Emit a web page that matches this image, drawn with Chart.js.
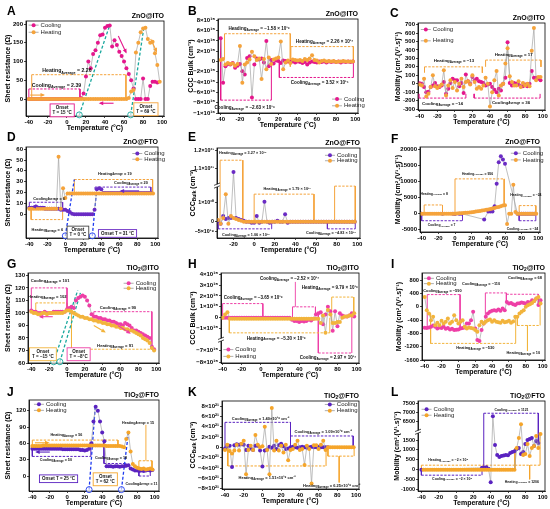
<!DOCTYPE html>
<html><head><meta charset="utf-8">
<script src="https://cdn.jsdelivr.net/npm/chart.js@4.4.0/dist/chart.umd.min.js"></script>
<style>
html,body{margin:0;padding:0;background:#fff;}
#fig{position:relative;width:550px;height:509px;overflow:hidden;background:#fff;}
#fig canvas{position:absolute;}
</style></head><body><div id="fig"></div>
<script>
// temperature grid shared by every panel (°C)
const tempC = [
  -40,-37.5,-35,-32.5,-30,-27.5,-25,-22.5,
  -20,-17.5,-15,-12.5,-10,-7.5,-5,-2.5,
  0,2.5,5,7.5,10,12.5,15,17.5,
  20,22.5,25,27.5,30,32.5,35,37.5,
  40,42.5,45,47.5,50,52.5,55,57.5,
  60,62.5,65,67.5,70,72.5,75,77.5,
  80,82.5,85,87.5,90,92.5,95,97.5];

// A: ZnO@ITO sheet resistance (ohm)
const aCool = [
  0,0,0,0,0,0,0,0,
  0,0,0,0,0,0,0,0,
  0,0,0,0,0,0,2,15,
  60,100,82,120,130,150,170,172,
  190,195,196,140,157,144,126,115,
  100,82,67,50,28,0,0,0,
  55,0,0,35,46,46,44,null];
const aHeat = [
  0,0,0,0,0,0,0,0,
  0,0,0,0,0,0,0,0,
  0,0,0,0,0,0,0,0,
  0,0,0,0,0,0,0,0,
  0,0,0,0,0,0,0,0,
  0,0,3,20,24,124,150,178,
  188,190,160,150,153,122,91,46];

// B: ZnO@ITO CCC bulk (x1e15 cm-3)
const bCool = [
  4.5,-4.1,-0.9,-0.5,-0.6,-0.3,-1.2,-0.8,
  -0.5,-1.9,-2.5,0.7,1.0,-7.0,-0.6,0.6,
  0.4,0.6,-0.2,4.0,-0.9,0.3,-0.4,0.2,
  0.1,-0.3,0.2,0.1,0,-0.1,0,-0.2,
  0,-0.1,-0.3,-0.1,-0.6,-0.2,0,-0.1,
  -0.2,0,-0.1,0,-0.2,0,-0.1,0,
  -0.1,0,-0.2,0,-0.1,0,-0.1,0];
const bHeat = [
  0.3,0.5,-0.6,-0.3,-0.5,-0.4,-0.8,-0.5,
  3.0,-4.1,-0.6,-0.2,0.4,1.9,1.0,0.3,
  0.6,-3.4,0.5,-1.5,0.8,-0.5,0.4,0.6,
  0.8,3.9,-1.5,-0.2,0.2,-0.3,0.4,0.3,
  0.2,0.3,0.1,0.5,0.3,0.6,1.2,0.3,
  0.2,-0.2,0.1,0.2,0,0.1,0,0.1,
  -0.1,0,0,0.1,0,0,0,0];

// C: ZnO@ITO mobility
const cCool = [
  5,0,-40,-100,-95,-40,-20,10,
  -30,-40,-20,20,-120,-60,10,60,
  40,40,-30,10,-110,110,30,0,
  80,40,60,30,20,10,-20,-10,
  0,-40,-70,-100,-60,-80,0,70,
  490,10,-20,10,0,-10,-30,-30,
  -10,-30,0,150,70,70,60,40];
const cHeat = [
  -10,-20,60,-150,-120,-40,100,-30,
  -50,-30,-10,160,-140,-20,40,-50,
  20,-80,0,60,-40,20,30,-10,
  100,20,-60,-40,-60,-20,70,0,
  -270,-100,40,150,-140,-20,0,240,
  420,90,20,-20,-20,30,-40,10,
  -20,0,-30,390,660,40,80,80];

// D: ZnO@FTO sheet resistance
const dCool = [
  6,6,6,7,6,6,6,5,
  5,5,5,5,5,5,4,4,
  4,3,2,0.5,0,0,0,0,
  0,0,0,0,0,4,23,24,
  23,19.5,19.5,19.5,19.5,19.5,19.5,19.5,
  19.5,19.5,19.5,19.5,19.5,19.5,19.5,19.5,
  19.5,19.5,19.5,19.5,19.5,19.5,19.5,null];
const dHeat = [
  5,5,5,5,5,5,5,5,
  5,5,5,5,5,53,5,24,
  15,19,19,19,19,19,19,19,
  19,19,19,19,19,19,19,19,
  19,19,19,19,19,19,19,19,
  19,19,19,19,19,19,19,19,
  19,19,19,19,19,19,19,19];

// E: ZnO@FTO CCC bulk (x1e20 cm-3, broken axis)
const eCool = [
  null,null,0.05,-0.1,0.3,0.15,0.2,0.2,
  10.78,0.2,0.15,0.1,0.05,0,0,-0.05,
  -0.05,0.3,-0.05,0,1.05,0,-0.05,0,
  0,0.05,0,0,0.4,-0.05,0,0,
  0,0,0,0,0,0,0,0,
  0,0,0,0,0,0,0,0,
  0,0,0,0,0,0,0,0];
const eHeat = [
  null,null,0.1,-0.1,0.2,1.45,-0.1,0.3,
  0.2,0.15,0.1,0.05,0,0,0,0,
  0,0,0,0,0,0,0,0,
  0,0,0,0,0,0,0,0,
  0,0,0,0,0,0,0,0,
  0,0,0,0,0,0,0,0,
  0,0,0,0,0,0,0,0];

// F: ZnO@FTO mobility
const fCool = [
  0,null,null,null,null,null,null,null,
  null,null,0,null,null,null,null,0,
  -100,null,0,0,null,null,null,null,
  null,null,null,null,null,null,-1800,null,
  700,700,700,2300,9300,16000,17800,16800,
  15500,null,null,null,null,null,0,0,
  0,0,0,0,0,0,0,null];
const fHeat = [
  0,0,0,0,0,0,0,0,
  0,0,0,0,0,0,0,0,
  0,50,100,150,200,250,300,380,
  450,550,650,750,850,950,1050,1200,
  1300,1450,1600,1750,1950,2100,2300,2500,
  2600,-3200,0,0,9000,500,0,0,
  0,0,0,0,0,0,0,0];

// G: TiO2@ITO sheet resistance
const gCool = [
  102,101,101,100,100,100,101,100,
  100,100,101,101,101,101,101,101,
  103,104,105,104,110,112,113,114,
  113,110,106,99,97,97,96,96,
  95,95,94,94,93,93,92,91,
  91,90,92,91,90,88,86,86,
  85,84,83,82,81,80,73,71];
const gHeat = [
  101,100,100,99,99,100,100,99,
  100,100,100,100,100,100,100,101,
  102,102,101,100,99,98,97,97,
  96,96,95,95,94,94,93,93,
  92,92,91,91,90,90,89,89,
  88,88,87,87,86,86,85,84,
  83,82,80,79,78,76,72,70];

// H: TiO2@ITO CCC bulk (x1e15 cm-3, broken axis)
const hCool = [
  0,0,0,0,0,0,0,0,
  0,0,0,0,0,0,0,0,
  0,0,0,0,0,0,0,0,
  0,0,0,0,0,-0.2,-0.3,-0.3,
  -0.4,-0.3,-0.35,-0.3,-0.2,-0.25,-0.1,0.3,
  0.4,0.5,-0.6,0.3,1.0,0.6,-1.2,0.6,
  -0.8,0.4,0.2,0.1,0.1,0.2,0.4,0.1];
const hHeat = [
  0,0.3,0.5,-0.1,-0.1,-0.1,-0.1,-0.1,
  -0.1,-0.1,-0.1,-0.1,-0.1,-0.1,-0.1,-0.1,
  -0.1,-0.1,-0.1,-0.1,-0.1,-0.1,-0.1,-0.1,
  -0.1,-0.1,-0.1,-0.1,-0.1,-0.1,-0.1,-0.1,
  -0.1,-0.1,-0.1,-0.1,-0.1,-0.1,-0.1,-0.1,
  -0.1,-0.5,0.2,-1.4,0.7,0.3,-0.5,-0.5,
  -0.4,-0.4,0,0.1,0.1,0.2,0.2,0.4];

// I: TiO2@ITO mobility
const iCool = [
  -630,-640,-620,-600,-560,-600,-650,-620,
  -640,-600,-660,-640,-680,-660,-700,-690,
  -680,-650,-640,-620,-500,-500,-400,-150,
  -650,-1000,-1030,-700,-500,-300,-200,-150,
  -120,-100,-120,-80,-120,-50,-100,150,
  100,120,80,60,100,110,130,120,
  100,150,130,200,180,250,60,200];
const iHeat = [
  300,-100,-200,-400,-300,-550,-480,-550,
  -420,-500,-450,-350,-500,-450,-250,-400,
  -500,-450,-400,-600,-650,-620,-640,-650,
  -700,-750,-550,-450,-500,-450,-400,-380,
  -450,-400,-450,-460,-480,-420,-460,-450,
  -420,-480,-440,-300,-300,-200,-150,-100,
  0,50,80,120,180,250,300,100];

// J: TiO2@FTO sheet resistance
const jCool = [
  50,50,50,50,50,50,50,50,
  50,50,50,50,50,50,49,49,
  49,49,49,49,49,49,48,48,
  47,48,50,60,100,127,120,100,
  80,64,18,18,18,17,18,18,
  17,18,18,19,20,14,12,10,
  10,9,10,9,10,11,10,11];
const jHeat = [
  55,55,55,55,55,56,56,56,
  56,56,56,56,56,56,56,56,
  56,56,56,56,56,56,56,56,
  56,56,56,56,56,56,56,56,
  56,56,55,55,55,55,55,55,
  55,54,53,68,80,45,22,18,
  15,14,13,14,12,13,14,12];

// K: TiO2@FTO CCC bulk (x1e21 cm-3)
const kCool = [
  -0.2,0.3,0.3,-3.8,0.4,0.6,0.5,0.6,
  0.5,-0.5,0.3,-0.2,-0.5,0.3,0.3,-0.6,
  -3.7,-0.6,-0.4,0.1,-0.1,0.3,-0.3,0.4,
  0.7,0.2,-0.3,-0.2,0,0.1,0,-0.1,
  0,0.1,0,-0.1,0,0.1,0,0,
  0.1,0,0,0,0,null,null,null,
  null,null,null,null,null,null,null,null];
const kHeat = [
  -0.5,0.5,-0.7,-1.2,-0.6,0.5,-0.6,0.7,
  1.3,-5.2,-0.5,0.3,-0.5,2.4,0.5,0,
  0.2,4.0,-0.5,-5.2,7.6,-0.6,1.3,-0.6,
  0.3,-1.0,0.5,-2.5,-0.5,-0.3,0.5,1.3,
  -0.5,-0.3,-3.4,0.3,-0.3,-7.0,0.4,0.4,
  -0.3,0.5,1.3,-0.5,0,0,0,0,
  0,0,0,0,0,0,0,0];

// L: TiO2@FTO mobility (broken axis)
const lCool = [
  0,null,null,null,null,null,null,null,
  null,null,null,null,null,null,null,null,
  null,null,null,null,null,null,null,null,
  null,null,null,null,100,110,130,50,
  -620,6800,1250,750,650,700,720,750,
  740,850,900,930,1050,1100,800,900,
  1300,1500,1550,1600,1200,1450,1350,null];
const lHeat = [
  null,0,0,0,0,0,0,0,
  0,0,0,0,0,0,0,0,
  0,0,0,0,0,0,0,0,
  0,0,0,0,0,0,0,0,
  0,0,0,0,0,0,0,0,
  0,0,0,0,1100,1600,6375,750,
  800,1300,700,1100,1200,1700,1100,1800];

// tick values and labels
const xTicksStd = [-40,-20,0,20,40,60,80,100];
const xTicksE = [-20,0,20,40,60,80,100];
const yTicksA = [0,50,100,150,200];
const yTicksB = [-10,-8,-6,-4,-2,0,2,4,6,8];
const yLabelsB = ['−1×10¹⁶','−8×10¹⁵','−6×10¹⁵','−4×10¹⁵','−2×10¹⁵','0','2×10¹⁵','4×10¹⁵','6×10¹⁵','8×10¹⁵'];
const yTicksC = [-300,-200,-100,0,100,200,300,400,500,600,700];
const yTicksD = [0,10,20,30,40,50,60];
const yTicksE = [-0.5,0,1,11,12];
const yLabelsE = ['−5×10¹⁹','0','1×10²⁰','1.1×10²¹','1.2×10²¹'];
const yTicksF = [-5000,0,5000,10000,15000,20000];
const yTicksG = [60,70,80,90,100,110,120,130];
const yTicksH = [-8,-7,-1,0,1,2,3,4];
const yLabelsH = ['−8×10¹⁵','−7×10¹⁵','−1×10¹⁵','0','1×10¹⁵','2×10¹⁵','3×10¹⁵','4×10¹⁵'];
const yTicksI = [-1600,-1200,-800,-400,0,400,800];
const yTicksJ = [0,30,60,90,120];
const yTicksK = [-8,-6,-4,-2,0,2,4,6,8];
const yLabelsK = ['−8×10²¹','−6×10²¹','−4×10²¹','−2×10²¹','0','2×10²¹','4×10²¹','6×10²¹','8×10²¹'];
const yTicksL = [-1000,-500,0,500,1000,1500,6500,7000,7500];
const yLabelsL = ['-1000','-500','0','500','1000','1500','6500','7000','7500'];

// average brackets: [xStart, xEnd, level, startBase, endBase, series]
const bracketsA = [[-37,62,65,0,0,'h'],[-40,13.7,27,0,0,'c']];
const bracketsB = [[-36,32.4,5.4,0.5,-1.0,'h'],[33,98,2.9,0,0,'h'],[-40,12.7,-7.5,4.5,0,'c'],[21,98,-3.1,0,0,'c']];
const bracketsC = [[-34.5,31.3,200,130,130,'h'],[35,98,280,200,200,'h'],[-41,12.6,-170,-120,-120,'c'],[22,97,-170,-120,-120,'c']];
const bracketsD = [[-40,-3,11,6,4,'c'],[-38,-3,-5,5,5,'h'],[10,97,32,19,19,'h'],[33,95,25,23,19.5,'c']];
const bracketsE = [[-33,-11,11.45,0,0,'h'],[0,58,1.45,0,0,'h'],[78,98,1.87,0,0,'h'],[-35,17,-0.37,0,0,'c'],[71,98,-0.37,0,0,'c']];
const bracketsF = [[-37,-15,2700,0,0,'h'],[0,59,10800,0,2600,'h'],[77,97,2500,0,0,'h'],[-40,9,-2200,0,0,'c'],[77,97,-2200,0,0,'c']];
const bracketsG = [[-40,0,120,102,103,'c'],[-35,0,108,100,102,'h'],[30,95,101,97,73,'c'],[5,95,71,101,72,'h']];
const bracketsH = [[-40,2,1.3,0,0,'c'],[33,57,1.0,-0.2,0.3,'c'],[74,97,1.9,-0.5,0.4,'h'],[-33,72,-1.4,0,0,'h'],[60,95,-7.2,0.4,0.4,'c']];
const bracketsI = [[-37,2,370,-620,-670,'c'],[32,57,420,-300,150,'c'],[57,95,380,150,60,'c'],[-33,68,-1100,-200,-300,'h'],[70,97,-560,-300,100,'h']];
const bracketsJ = [[-40,58,66,55,56,'h'],[-40,27,36,50,55,'c'],[42,67,23,64,19,'c'],[82,97,28,14,12,'h'],[82,95,0,9,10,'c']];
const bracketsK = [[-40,30,4.84,0,0,'c'],[30,97,2.2,0,0,'c'],[-37,68,-3.6,0,0,'h'],[70,98,-1.7,0,0,'h']];
const bracketsL = [[32,95,6964,0,1350,'c'],[-40,68,233,0,0,'h'],[-40,30,-270,0,0,'c'],[68,97,233,1100,1800,'h']];

// average labels: [series, value, x, y]
const labelsA = [['Heating','2.26',0,75],['Cooling','2.39',-11,37]];
const labelsB = [['Heading','−1.58 × 10¹⁶',0,6.4],['Heating','2.26 × 10¹⁷',68,3.9],['Cooling','−2.63 × 10¹⁶',-15,-9.0],['Cooling','3.52 × 10¹⁵',63,-4.2]];
const labelsC = [['Heating','−13',-1,268],['Heating','17',67,338],['Cooling','−14',-14,-240],['Cooling','36',64,-220]];
const labelsD = [['Cooling','6',-18,14.5],['Heating','6',-20,-15],['Heating','19',55,37.5],['Cooling','20',73,28.5]];
const labelsE = [['Heating','3.27 × 10¹⁹',-11,11.85],['Heating','1.79 × 10¹⁷',32,1.7],['Heating','−4.10 × 10²⁰',73.5,2.35],['Cooling','1.06 × 10¹⁹',-8,-0.7],['Cooling','−4.83 × 10¹⁹',74.5,-0.6]];
const labelsF = [['Heating','8',-25,6200],['Heating','956',27,12400],['Heating','−24',85,5700],['Cooling','7',-16,-3600],['Cooling','−24',81,-4700]];
const labelsG = [['Cooling','101',-19,125.5],['Heating','102',-22,113],['Cooling','90',57,104],['Heating','91',54,74]];
const labelsH = [['Cooling','−3.65 × 10¹⁶',-8,1.85],['Cooling','−2.52 × 10¹⁷',30,3.6],['Heating','9.79 × 10¹⁶',72,2.75],['Heating','−5.30 × 10¹⁶',16,-1.9],['Cooling','2.97 × 10¹⁷',70,-7.65]];
const labelsI = [['Cooling','−590',-19,480],['Cooling','−110',27,690],['Cooling','68',79,870],['Heating','−530',20,-1230],['Heating','10',77,-1400]];
const labelsJ = [['Heating','56',-1,75],['Cooling','50',-13,29],['Cooling','18',50,33.5],['Heating','15',81,98],['Cooling','11',85,-14]];
const labelsK = [['Cooling','1.40×10¹⁹ cm⁻³',-2,5.5],['Cooling','1.09×10¹⁹ cm⁻³',65,2.95],['Heating','1.51×10¹⁹ cm⁻³',5,-6.0],['Heating','6.25×10¹⁸ cm⁻³',74,-7.4]];
const labelsL = [['Cooling','1121',64,7160],['Heating','−2 × 10⁴',-9,480],['Cooling','−2 × 10⁵',-4.5,-450],['Heating','1206',76,-600]];

// onset guide lines [x1,y1,x2,y2], onset boxes [x,y,lines,series], arrows [x1,y1,x2,y2,series]
const onsetA = [[13,-42,45,197],[67,-42,81,193]];
const onsetD = [[0,-20,10,32],[30,-20,35,24]];
const onsetG = [[-15,61,12,118],[-8,61,15,116]];
const onsetJ = [[25,-25,32,127],[62,-25,70,80]];
const boxesA = [[-5,-30,['Onset','T = 15 °C'],'c'],[83,-27,['Onset','T = 69 °C'],'h']];
const boxesD = [[14,-17,['Onset','T = 0 °C'],'k'],[58,-17.8,['Onset T = 31 °C'],'c']];
const boxesG = [[-27,67,['Onset','T = −15 °C'],'h'],[13,67,['Onset','T = −8°C'],'c']];
const boxesJ = [[-10,-5,['Onset T = 25 °C'],'c'],[43.5,-6,['Onset','T = 62 °C'],'h']];
const arrowsA = [[49,-11,35,-11,'c'],[-38.6,10.7,-24.6,10.7,'h'],[54,168,62,125,'c'],[88,160,94,128,'h']];
const arrowsD = [[82,21.5,62,21.5,'c'],[-22,7,-36,7,'c']];
const arrowsG = [[-16,97,-30,97,'c'],[30,90,42,85,'h'],[57,90,70,84,'c']];
const arrowsJ = [[-37,61,-22,61,'h'],[-20,44,-35,44,'c']];
const extrasH = [[36,1.0,36,3.3,'c']];
const extrasI = [[82,-560,82,-1330,'h']];
const extrasJ = [[90,28,90,94,'h']];
const extrasK = [[82,-1.7,82,-6.8,'h']];
const extrasL = [[85,233,85,-480,'h']];

// styles
const colZnITO = {c:'#E4178C', h:'#F5A33B', t:'#19A89E', k:'#444'};
const colZnFTO = {c:'#6A2BC4', h:'#F5A33B', t:'#1E3BF0', k:'#444'};
const colTiITO = {c:'#EE3FA6', h:'#F2B43C', t:'#19A89E', k:'#444'};
const colTiFTO = {c:'#5A22C0', h:'#F5A52A', t:'#1E3BF0', k:'#444'};

// layout (absolute px): canvas cell, plot rect [l,t,r,b], letter pos, y-title x
const layout = {
  A:{cell:[0,0,183,136],   plot:[26,21,164,116],   letter:[7,15],   ytx:8},
  B:{cell:[183,0,183,136], plot:[218,19,358,113],  letter:[188,15], ytx:191},
  C:{cell:[366,0,184,136], plot:[418,23,545,110],  letter:[390,17], ytx:398},
  D:{cell:[0,127,183,136], plot:[26,147,158,238],  letter:[7,141],  ytx:8},
  E:{cell:[183,127,183,136], plot:[217,148,360,238], letter:[188,141], ytx:193},
  F:{cell:[366,127,184,136], plot:[420,147,540,232], letter:[391,143], ytx:398},
  G:{cell:[0,253,183,136], plot:[28,273,159,363],  letter:[7,268],  ytx:8},
  H:{cell:[183,253,183,136], plot:[221,273,359,363], letter:[188,268], ytx:193},
  I:{cell:[366,253,184,136], plot:[422,273,545,360], letter:[391,268], ytx:399},
  J:{cell:[0,380,183,129], plot:[29,400,159,491],  letter:[7,396],  ytx:8},
  K:{cell:[183,380,183,129], plot:[222,401,359,489], letter:[188,396], ytx:193},
  L:{cell:[366,380,184,129], plot:[418,401,545,491], letter:[391,396], ytx:397}
};

const RS = 'Sheet resistance (Ω)', MOB = 'Mobility (cm².(V¹.s)⁻¹)';
const panels = [
  {id:'A', title:'ZnO@ITO', yt:RS, cool:aCool, heat:aHeat, xr:[-43,102], yr:[-45,208], xt:xTicksStd, yt2:yTicksA, col:colZnITO,
   br:bracketsA, lb:labelsA, ls:5.2, lg:[-35,197,178], on:onsetA, bx:boxesA, ar:arrowsA},
  {id:'B', title:'ZnO@ITO', yt:'CCC Bulk (cm⁻³)', cool:bCool, heat:bHeat, xr:[-42.8,102.8], yr:[-10,8.26], xt:xTicksStd, yt2:yTicksB, yl:yLabelsB, col:colZnITO,
   br:bracketsB, lb:labelsB, ls:4.6, lg:[81,-7.3,-8.6]},
  {id:'C', title:'ZnO@ITO', yt:MOB, cool:cCool, heat:cHeat, xr:[-41.9,102.6], yr:[-311,719], xt:xTicksStd, yt2:yTicksC, col:colZnITO,
   br:bracketsC, lb:labelsC, ls:4.4, lg:[-33,642,508]},
  {id:'D', title:'ZnO@FTO', yt:RS, cool:dCool, heat:dHeat, xr:[-43.7,103], yr:[-22,62], xt:xTicksStd, yt2:yTicksD, col:colZnFTO,
   br:bracketsD, lb:labelsD, ls:3.9, lg:[80,56,50.7], on:onsetD, bx:boxesD, ar:arrowsD},
  {id:'E', title:'ZnO@FTO', yt:'CCC_{Bulk} (cm⁻³)', cool:eCool, heat:eHeat, xr:[-36,102.6], yr:[-0.85,3.87], xt:xTicksE, yt2:yTicksE, yl:yLabelsE, col:colZnFTO,
   br:bracketsE, lb:labelsE, ls:3.8, lg:[73.5,11.73,11.42], brk:{at:1.9, to:10, k:0.917, up:true}, tsz:5.3},
  {id:'F', title:'ZnO@FTO', yt:MOB, cool:fCool, heat:fHeat, xr:[-42,102], yr:[-5700,20700], xt:xTicksStd, yt2:yTicksF, col:colZnFTO,
   br:bracketsF, lb:labelsF, ls:3.4, lg:[73,18760,16700]},
  {id:'G', title:'TiO_{2}@ITO', yt:RS, cool:gCool, heat:gHeat, xr:[-43.7,103], yr:[60,131.9], xt:xTicksStd, yt2:yTicksG, col:colTiITO,
   br:bracketsG, lb:labelsG, ls:4.2, lg:[69,123.7,119.7], on:onsetG, bx:boxesG, ar:arrowsG},
  {id:'H', title:'TiO_{2}@ITO', yt:'CCC Bulk (cm⁻³)', cool:hCool, heat:hHeat, xr:[-41.7,102.5], yr:[-4.18,4.12], xt:xTicksStd, yt2:yTicksH, yl:yLabelsH, col:colTiITO,
   br:bracketsH, lb:labelsH, ls:4.5, lg:[-34,-6.91,-7.49], brk:{at:-2.03, to:-6.06, k:1.077, up:false}, ex:extrasH},
  {id:'I', title:'TiO_{2}@ITO', yt:MOB, cool:iCool, heat:iHeat, xr:[-43.2,102.8], yr:[-1600,1020], xt:xTicksStd, yt2:yTicksI, col:colTiITO,
   br:bracketsI, lb:labelsI, ls:3.9, lg:[-35,860,700], ex:extrasI, tsz:5.7},
  {id:'J', title:'TiO_{2}@FTO', yt:RS, cool:jCool, heat:jHeat, xr:[-43.8,105], yr:[-27.5,139.6], xt:xTicksStd, yt2:yTicksJ, col:colTiFTO,
   br:bracketsJ, lb:labelsJ, ls:3.7, lg:[-32.4,131.7,120.6], on:onsetJ, bx:boxesJ, ar:arrowsJ, ex:extrasJ},
  {id:'K', title:'TiO_{2}@FTO', yt:'CCC_{Bulk} (cm⁻³)', cool:kCool, heat:kHeat, xr:[-43.2,103.2], yr:[-8.06,8.97], xt:xTicksStd, yt2:yTicksK, yl:yLabelsK, col:colTiFTO,
   br:bracketsK, lb:labelsK, ls:4.0, lg:[72,8.3,7.1], ex:extrasK},
  {id:'L', title:'TiO_{2}@FTO', yt:MOB, cool:lCool, heat:lHeat, xr:[-43.9,102.7], yr:[-1067,3467], xt:xTicksStd, yt2:yTicksL, yl:yLabelsL, col:colTiFTO,
   br:bracketsL, lb:labelsL, ls:3.5, lg:[-34,7178,6857], brk:{at:1917, to:5964, k:0.933, up:true}, ex:extrasL, tsz:5.5}
];

const FONT = '"Liberation Sans", Arial, sans-serif';
function fnt(size, bold) { return (bold ? 'bold ' : '') + size + 'px ' + FONT; }

// text with _{subscript} parts
function rich(ctx, str, x, y, size, bold, align, color) {
  const parts = [];
  str.split(/(_\{[^}]*\})/).forEach(s => {
    if (!s) return;
    if (s.indexOf('_{') === 0) parts.push({t: s.slice(2, -1), sub: true});
    else parts.push({t: s, sub: false});
  });
  let w = 0;
  parts.forEach(p => { ctx.font = fnt(p.sub ? size * 0.7 : size, bold); p.w = ctx.measureText(p.t).width; w += p.w; });
  let cx = align === 'center' ? x - w / 2 : align === 'right' ? x - w : x;
  ctx.textAlign = 'left'; ctx.textBaseline = 'middle'; ctx.fillStyle = color;
  parts.forEach(p => {
    ctx.font = fnt(p.sub ? size * 0.7 : size, bold);
    ctx.fillText(p.t, cx, p.sub ? y + size * 0.3 : y);
    cx += p.w;
  });
}

// broken y axis: values beyond the break are shifted down/up
function makeMap(b) {
  if (!b) return v => v;
  return v => {
    if (v === null) return null;
    const beyond = b.up ? v > b.at : v < b.at;
    return beyond ? b.at + (v - b.to) * b.k : v;
  };
}

function makeDeco(p, L, f) {
  const col = p.col;
  return {
    id: 'deco' + p.id,
    afterDraw(chart) {
      const ctx = chart.ctx, a = chart.chartArea, sx = chart.scales.x, sy = chart.scales.y;
      const X = v => sx.getPixelForValue(v), Y = v => sy.getPixelForValue(f(v));
      const ox = L.cell[0], oy = L.cell[1];
      ctx.save();
      ctx.strokeStyle = '#000'; ctx.lineWidth = 0.8;
      ctx.strokeRect(a.left, a.top, a.right - a.left, a.bottom - a.top);
      if (p.brk) {
        const yb = sy.getPixelForValue(p.brk.at);
        ctx.fillStyle = '#fff'; ctx.fillRect(a.left - 3, yb - 1.4, 6, 2.8);
        ctx.beginPath();
        ctx.moveTo(a.left - 3, yb - 0.2); ctx.lineTo(a.left + 3, yb - 2.6);
        ctx.moveTo(a.left - 3, yb + 2.6); ctx.lineTo(a.left + 3, yb + 0.2);
        ctx.lineWidth = 0.7; ctx.stroke();
      }
      // panel letter and material
      ctx.fillStyle = '#000'; ctx.font = fnt(12, true); ctx.textAlign = 'left'; ctx.textBaseline = 'alphabetic';
      ctx.fillText(p.id, L.letter[0] - ox, L.letter[1] - oy);
      rich(ctx, p.title, a.right, a.top - 5, 7, true, 'right', '#000');
      // axis titles
      ctx.save();
      ctx.translate(L.ytx - ox, (a.top + a.bottom) / 2);
      ctx.rotate(-Math.PI / 2);
      rich(ctx, p.yt, 0, 0, 7, true, 'center', '#000');
      ctx.restore();
      rich(ctx, 'Temperature (°C)', (a.left + a.right) / 2, a.bottom + 12.5, 7, true, 'center', '#000');
      // average labels
      p.lb.forEach(l => rich(ctx, l[0] + '_{Average} = ' + l[1], X(l[2]), Y(l[3]), p.ls, true, 'center', '#111'));
      // arrows
      (p.ar || []).forEach(r => {
        const x1 = X(r[0]), y1 = Y(r[1]), x2 = X(r[2]), y2 = Y(r[3]);
        const ang = Math.atan2(y2 - y1, x2 - x1);
        ctx.strokeStyle = col[r[4]]; ctx.fillStyle = col[r[4]]; ctx.lineWidth = 1.1;
        ctx.beginPath(); ctx.moveTo(x1, y1); ctx.lineTo(x2, y2); ctx.stroke();
        ctx.beginPath(); ctx.moveTo(x2 + 1.5 * Math.cos(ang), y2 + 1.5 * Math.sin(ang));
        ctx.lineTo(x2 - 3 * Math.cos(ang) + 2 * Math.sin(ang), y2 - 3 * Math.sin(ang) - 2 * Math.cos(ang));
        ctx.lineTo(x2 - 3 * Math.cos(ang) - 2 * Math.sin(ang), y2 - 3 * Math.sin(ang) + 2 * Math.cos(ang));
        ctx.closePath(); ctx.fill();
      });
      // onset circles
      (p.on || []).forEach(o => {
        ctx.beginPath(); ctx.arc(X(o[0]), Y(o[1]), 3, 0, Math.PI * 2);
        ctx.fillStyle = 'rgba(255,255,255,0.6)'; ctx.fill();
        ctx.strokeStyle = col.t; ctx.lineWidth = 0.9; ctx.stroke();
      });
      // onset boxes
      (p.bx || []).forEach(b => {
        ctx.font = fnt(4.5, true);
        const w = Math.max(...b[2].map(s => ctx.measureText(s).width)) + 5;
        const h = b[2].length * 5.2 + 2.5;
        const cx = X(b[0]), cy = Y(b[1]);
        ctx.fillStyle = '#fff'; ctx.fillRect(cx - w / 2, cy - h / 2, w, h);
        ctx.strokeStyle = col[b[3]]; ctx.lineWidth = 0.9; ctx.strokeRect(cx - w / 2, cy - h / 2, w, h);
        ctx.fillStyle = '#111'; ctx.textAlign = 'center'; ctx.textBaseline = 'middle';
        b[2].forEach((s, i) => ctx.fillText(s, cx, cy - h / 2 + 3.8 + i * 5.2));
      });
      // legend
      const lg = p.lg;
      [['Cooling', col.c, lg[1]], ['Heating', col.h, lg[2]]].forEach(r => {
        const mx = X(lg[0]), my = Y(r[2]);
        ctx.strokeStyle = '#999'; ctx.lineWidth = 0.8;
        ctx.beginPath(); ctx.moveTo(mx - 5, my); ctx.lineTo(mx + 5, my); ctx.stroke();
        ctx.beginPath(); ctx.arc(mx, my, 2, 0, Math.PI * 2); ctx.fillStyle = r[1]; ctx.fill();
        ctx.fillStyle = '#222'; ctx.font = fnt(6, false); ctx.textAlign = 'left'; ctx.textBaseline = 'middle';
        ctx.fillText(r[0], mx + 7, my);
      });
      ctx.restore();
    }
  };
}

function build(p) {
  const L = layout[p.id], col = p.col, f = makeMap(p.brk);
  const cv = document.createElement('canvas');
  cv.width = L.cell[2]; cv.height = L.cell[3];
  cv.style.left = L.cell[0] + 'px'; cv.style.top = L.cell[1] + 'px';
  cv.style.width = L.cell[2] + 'px'; cv.style.height = L.cell[3] + 'px';
  document.getElementById('fig').appendChild(cv);

  const series = ys => tempC.map((t, i) => ({x: t, y: ys[i] === null ? null : f(ys[i])}));
  const ds = [];
  ds.push({data: series(p.heat), borderColor: '#a3a3a3', borderWidth: 0.7, pointRadius: 2,
    pointBackgroundColor: col.h, pointBorderColor: col.h, pointBorderWidth: 0, spanGaps: true, order: 0});
  ds.push({data: series(p.cool), borderColor: '#a3a3a3', borderWidth: 0.7, pointRadius: 2,
    pointBackgroundColor: col.c, pointBorderColor: col.c, pointBorderWidth: 0, spanGaps: true, order: 1});
  (p.on || []).forEach(o => ds.push({data: [{x: o[0], y: f(o[1])}, {x: o[2], y: f(o[3])}],
    borderColor: col.t, borderWidth: 1.3, borderDash: [3, 2], pointRadius: 0, order: 2}));
  p.br.forEach(b => ds.push({
    data: [{x: b[0], y: f(b[3])}, {x: b[0], y: f(b[2])}, {x: b[1], y: f(b[2])}, {x: b[1], y: f(b[4])}],
    borderColor: col[b[5]], borderWidth: 1, pointRadius: 0, order: 3,
    segment: {borderDash: c => c.p0DataIndex === 1 ? [2.4, 1.4] : []}
  }));
  (p.ex || []).forEach(e => ds.push({data: [{x: e[0], y: f(e[1])}, {x: e[2], y: f(e[3])}],
    borderColor: col[e[4]], borderWidth: 0.9, pointRadius: 0, order: 3}));

  const tickFont = {family: FONT, size: p.tsz || 6, weight: 'bold'};
  const gridOpt = {drawOnChartArea: false, tickLength: 2, color: '#000', lineWidth: 0.7};
  new Chart(cv, {
    type: 'line',
    data: {datasets: ds},
    options: {
      responsive: false, animation: false, events: [],
      layout: {padding: {left: 0, top: L.plot[1] - L.cell[1], right: L.cell[0] + L.cell[2] - L.plot[2], bottom: 0}},
      plugins: {legend: {display: false}, tooltip: {enabled: false}},
      scales: {
        x: {
          type: 'linear', min: p.xr[0], max: p.xr[1],
          afterBuildTicks: s => { s.ticks = p.xt.map(v => ({value: v})); },
          afterFit: s => { s.height = L.cell[1] + L.cell[3] - L.plot[3]; s.paddingLeft = 0; s.paddingRight = 0; },
          ticks: {autoSkip: false, maxRotation: 0, padding: 0.5, color: '#000', font: {family: FONT, size: 6, weight: 'bold'}, callback: v => String(v)},
          grid: gridOpt, border: {color: '#000', width: 0.8}
        },
        y: {
          type: 'linear', min: p.yr[0], max: p.yr[1],
          afterBuildTicks: s => { s.ticks = p.yt2.map(v => ({value: f(v)})); },
          afterFit: s => { s.width = L.plot[0] - L.cell[0]; s.paddingTop = 0; s.paddingBottom = 0; },
          ticks: {autoSkip: false, padding: 1, color: '#000', font: tickFont, callback: (v, i) => p.yl ? p.yl[i] : String(v)},
          grid: gridOpt, border: {color: '#000', width: 0.8}
        }
      }
    },
    plugins: [makeDeco(p, L, f)]
  });
}

panels.forEach(build);
</script></body></html>
